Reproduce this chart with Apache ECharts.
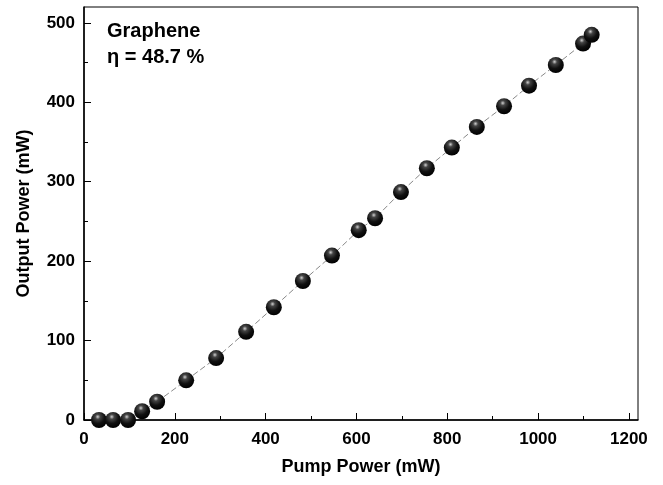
<!DOCTYPE html>
<html>
<head>
<meta charset="utf-8">
<script src="https://cdn.jsdelivr.net/npm/echarts@6/dist/echarts.min.js"></script>
<style>
  html, body { margin: 0; padding: 0; background: #fff; }
  #main { width: 663px; height: 485px; }
</style>
</head>
<body>
<div id="main"></div>
<script>
// pump power (mW) and output power (mW)
var pumpPower = [33, 64, 97, 128, 161, 225, 291, 357, 418, 482, 546, 605, 641, 698, 755, 810, 865, 925, 980, 1039, 1099, 1118];
var outputPower = [0, 0, 0, 11, 23, 50, 78, 111, 142, 175, 207, 239, 254, 287, 317, 343, 369, 395, 421, 447, 474, 485];
var xTicks = [0, 200, 400, 600, 800, 1000, 1200];
var yTicks = [0, 100, 200, 300, 400, 500];
var sampleName = 'Graphene';
var slopeText = 'η = 48.7 %';

var font = 'Liberation Sans, Arial, sans-serif';
var myChart = echarts.init(document.getElementById('main'));

var pts = [];
for (var i = 0; i < pumpPower.length; i++) {
    pts.push([pumpPower[i], outputPower[i]]);
}

myChart.setOption({
    backgroundColor: '#fff',
    animation: false,
    grid: {
        left: 84, top: 7, right: 25, bottom: 65,
        show: true,
        borderColor: '#000',
        borderWidth: 1
    },
    xAxis: {
        type: 'value',
        min: 0, max: 1220,
        name: 'Pump Power (mW)',
        nameLocation: 'middle',
        nameGap: 38,
        nameTextStyle: { fontFamily: font, fontWeight: 'bold', fontSize: 18, color: '#000' },
        axisLine: { lineStyle: { color: '#000', width: 1.5 } },
        axisTick: { inside: true, length: 7, customValues: xTicks, lineStyle: { color: '#000' } },
        minorTick: { show: true, splitNumber: 2, length: 4, lineStyle: { color: '#000' } },
        axisLabel: {
            customValues: xTicks, margin: 11,
            formatter: function (v) { return String(v); },
            fontFamily: font, fontWeight: 'bold', fontSize: 17, color: '#000'
        },
        splitLine: { show: false }
    },
    yAxis: {
        type: 'value',
        min: 0, max: 520,
        name: 'Output Power (mW)',
        nameLocation: 'middle',
        nameGap: 51,
        nameTextStyle: { fontFamily: font, fontWeight: 'bold', fontSize: 18, color: '#000' },
        axisLine: { lineStyle: { color: '#000', width: 1.5 } },
        axisTick: { inside: true, length: 7, customValues: yTicks, lineStyle: { color: '#000' } },
        minorTick: { show: true, splitNumber: 2, length: 4, lineStyle: { color: '#000' } },
        axisLabel: {
            customValues: yTicks, margin: 9,
            formatter: function (v) { return String(v); },
            fontFamily: font, fontWeight: 'bold', fontSize: 17, color: '#000'
        },
        splitLine: { show: false }
    },
    graphic: [
        { type: 'text', left: 107, top: 21, style: { text: sampleName, font: 'bold 20px ' + font, fill: '#000' } },
        { type: 'text', left: 107, top: 47, style: { text: slopeText, font: 'bold 20px ' + font, fill: '#000' } }
    ],
    series: [{
        type: 'line',
        data: pts,
        symbol: 'circle',
        symbolSize: 16,
        showSymbol: true,
        lineStyle: { color: '#888', width: 1, type: [6, 3] },
        itemStyle: {
            color: {
                type: 'radial', x: 0.42, y: 0.3, r: 0.7,
                colorStops: [
                    { offset: 0, color: '#d0d0d0' },
                    { offset: 0.22, color: '#444' },
                    { offset: 0.6, color: '#111' },
                    { offset: 1, color: '#000' }
                ]
            },
            borderWidth: 0
        },
        z: 3
    }]
});
</script>
</body>
</html>
